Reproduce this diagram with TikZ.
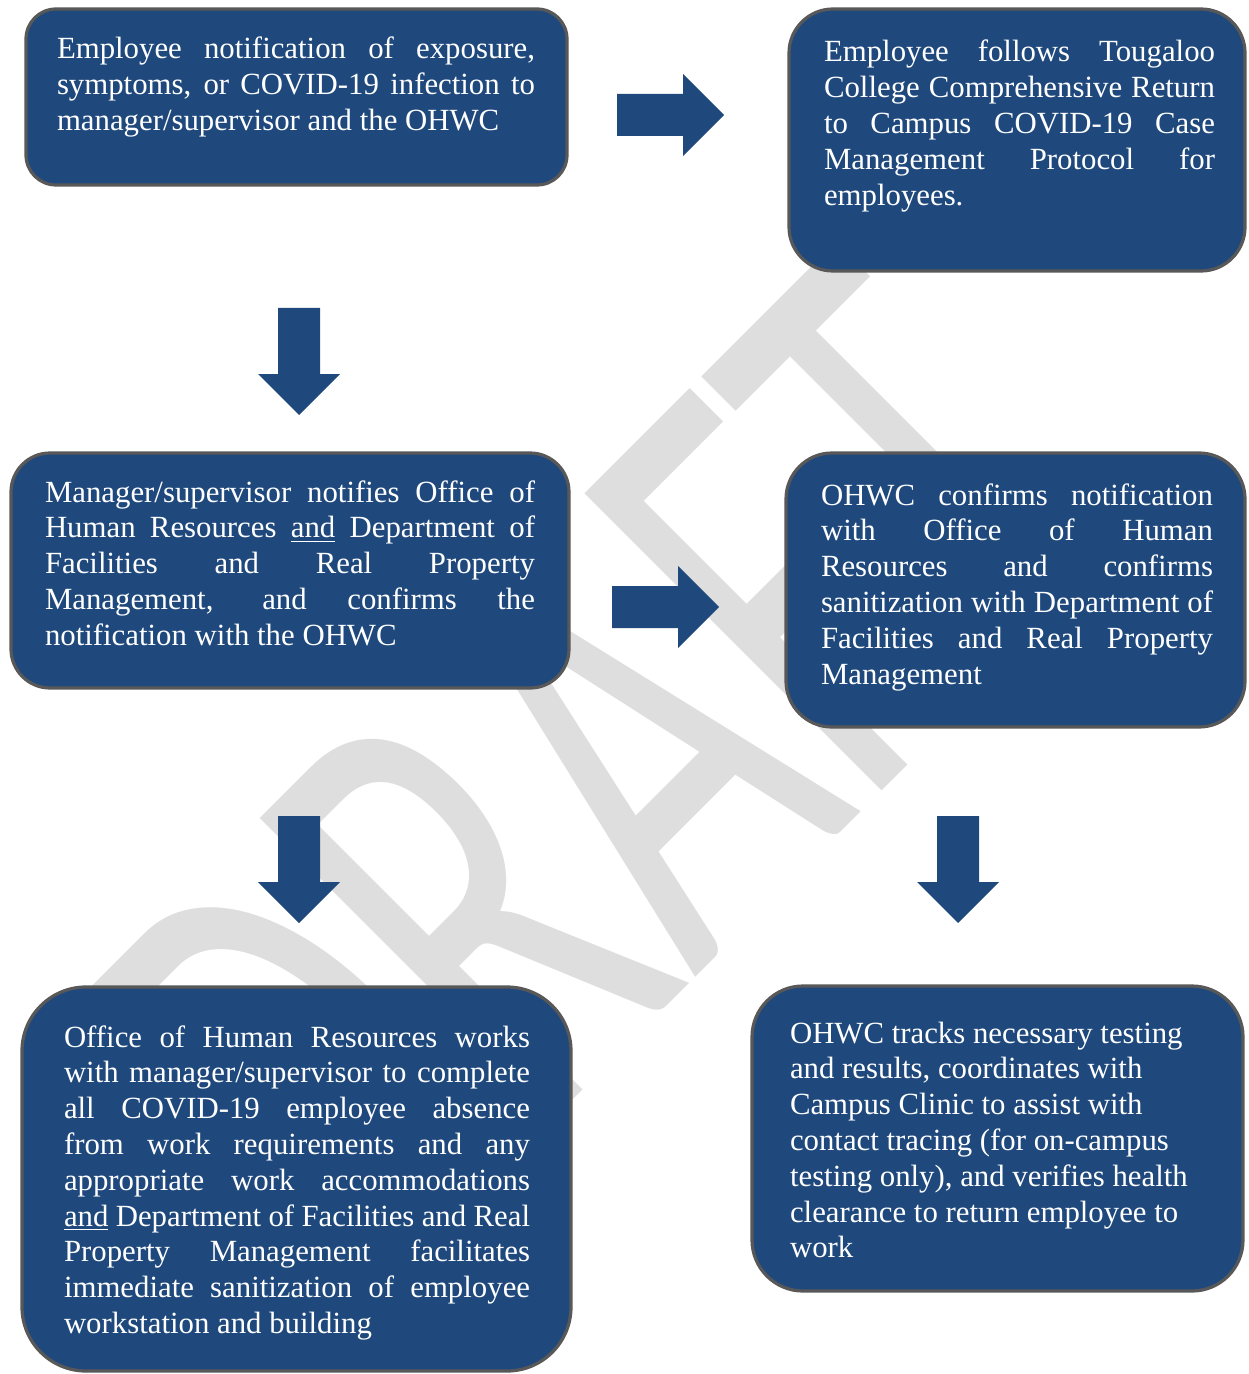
\documentclass[tikz,border=0pt]{standalone}
\usepackage{fontspec}
\setmainfont{Liberation Serif}
\newfontfamily\wmfont{Carlito}
\definecolor{boxblue}{RGB}{31,73,125}
\definecolor{boxedge}{RGB}{88,88,88}
\definecolor{wmgray}{RGB}{222,222,222}
\newcommand\JL[2]{\makebox[#1][s]{\spaceskip=0pt\xspaceskip=0pt\relax #2}}
\newcommand\fs{\rule{0pt}{12pt}}
\begin{document}
\begin{tikzpicture}[x=0.5pt, y=-0.5pt,
  box/.style={draw=boxedge, fill=boxblue, line width=1.6pt, inner sep=0pt, outer sep=0pt, anchor=north west},
  txt/.style={text=white, inner sep=0pt, outer sep=0pt, anchor=north west, align=flush left,
    font=\fontsize{15.4pt}{17.9pt}\selectfont},
  blockarrow/.style={fill=boxblue}]
\fill[white] (0,0) rectangle (1248,1374);
\useasboundingbox (0,0) rectangle (1248,1374);

% watermark
\node[text=wmgray, inner sep=0pt, outer sep=0pt, anchor=base west, rotate=45, xscale=0.626,
  font=\wmfont\fontsize{327.5pt}{330pt}\selectfont] (wm) at (358.5,1314.5) {DRAFT};

% boxes
\node[box, rounded corners=15pt, minimum width=270.5pt, minimum height=88pt] (b1) at (26,9) {};
\node[box, rounded corners=22pt, minimum width=228pt, minimum height=131pt] (b2) at (789,9) {};
\node[box, rounded corners=19.5pt, minimum width=279pt, minimum height=117.5pt] (b3) at (11,453) {};
\node[box, rounded corners=23pt, minimum width=229.5pt, minimum height=137pt] (b4) at (786,453) {};
\node[box, rounded corners=32pt, minimum width=274.5pt, minimum height=192pt] (b5) at (22,987) {};
\node[box, rounded corners=25.5pt, minimum width=245.5pt, minimum height=152.5pt] (b6) at (752,986) {};

% texts
\node[txt, text width=240pt] (t1) at (57,35) {%
\fs\JL{239pt}{Employee notification of exposure,}\\
\JL{239pt}{symptoms, or COVID-19 infection to}\\
manager/supervisor and the OHWC};

\node[txt, text width=196pt] (t2) at (824,38) {%
\fs\JL{195.5pt}{Employee follows Tougaloo}\\
\JL{195.5pt}{College Comprehensive Return}\\
\JL{195.5pt}{to Campus COVID-19 Case}\\
\JL{195.5pt}{Management Protocol for}\\
employees.};

\node[txt, text width=246pt] (t3) at (45,478) {%
\fs\JL{245pt}{Manager/supervisor notifies Office of}\\
\JL{245pt}{Human Resources \underline{and} Department of}\\
\JL{245pt}{Facilities and Real Property}\\
\JL{245pt}{Management, and confirms the}\\
notification with the OHWC};

\node[txt, text width=197pt] (t4) at (821,481) {%
\fs\JL{196pt}{OHWC confirms notification}\\
\JL{196pt}{with Office of Human}\\
\JL{196pt}{Resources and confirms}\\
\JL{196pt}{sanitization with Department of}\\
\JL{196pt}{Facilities and Real Property}\\
Management};

\node[txt, text width=234pt] (t5) at (64,1023) {%
\fs\JL{233pt}{Office of Human Resources works}\\
\JL{233pt}{with manager/supervisor to complete}\\
\JL{233pt}{all COVID-19 employee absence}\\
\JL{233pt}{from work requirements and any}\\
\JL{233pt}{appropriate work accommodations}\\
\JL{233pt}{\underline{and} Department of Facilities and Real}\\
\JL{233pt}{Property Management facilitates}\\
\JL{233pt}{immediate sanitization of employee}\\
workstation and building};

\node[txt, text width=225pt] (t6) at (790,1019) {%
\fs OHWC tracks necessary testing\\
and results, coordinates with\\
Campus Clinic to assist with\\
contact tracing (for on-campus\\
testing only), and verifies health\\
clearance to return employee to\\
work};

% block arrows
\fill[blockarrow] (617,94) -- (683,94) -- (683,74) -- (724,115) -- (683,156) -- (683,136) -- (617,136) -- cycle;
\fill[blockarrow] (612,586) -- (678,586) -- (678,566) -- (719,607) -- (678,648) -- (678,628) -- (612,628) -- cycle;
\fill[blockarrow] (278,308) -- (320,308) -- (320,374) -- (340,374) -- (299,415) -- (258,374) -- (278,374) -- cycle;
\fill[blockarrow] (278,816) -- (320,816) -- (320,882) -- (340,882) -- (299,923) -- (258,882) -- (278,882) -- cycle;
\fill[blockarrow] (937,816) -- (979,816) -- (979,882) -- (999,882) -- (958,923) -- (917,882) -- (937,882) -- cycle;
\end{tikzpicture}
\end{document}
